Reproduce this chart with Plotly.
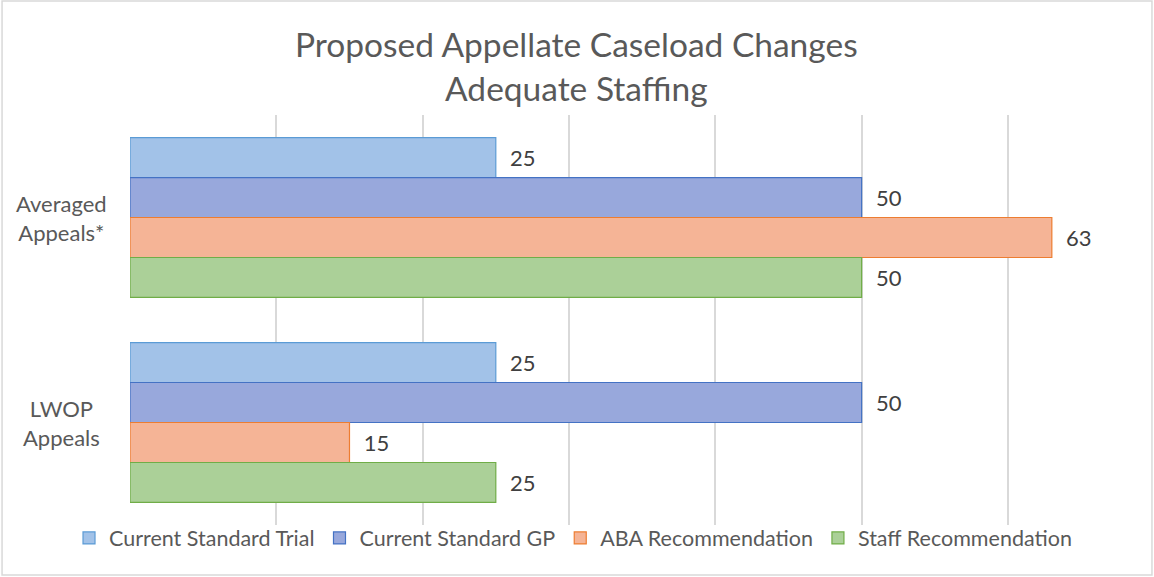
import plotly.graph_objects as go

categories = ["Averaged Appeals*", "LWOP Appeals"]
category_labels = ["Averaged<br>Appeals*", "LWOP<br>Appeals"]
series_names = ["Current Standard Trial", "Current Standard GP", "ABA Recommendation", "Staff Recommendation"]
trial = [25, 25]
gp = [50, 50]
aba = [63, 15]
staff = [50, 25]
series_values = [trial, gp, aba, staff]
chart_title = "Proposed Appellate Caseload Changes<br>Adequate Staffing"

fills = ["#a2c2e8", "#98a8dc", "#f5b496", "#abd098"]
edges = ["#5b9bd5", "#4472c4", "#ed7d31", "#70ad47"]

FONT = "Lato"
TXT = "#595959"

fig = go.Figure()
for name, vals, fc, ec in zip(series_names, series_values, fills, edges):
    fig.add_trace(go.Bar(
        name=name, y=categories, x=vals, orientation="h",
        marker=dict(color=fc, line=dict(color=ec, width=1.2)),
        text=[f"{v}" for v in vals], texttemplate="  %{text}",
        textposition="outside", cliponaxis=False,
        textfont=dict(family=FONT, size=22, color="#404040"),
    ))

for cat, lab in zip(categories, category_labels):
    fig.add_annotation(x=-0.069, xref="paper", y=cat, yref="y", text=lab,
                       showarrow=False, xanchor="center", yanchor="middle", align="center",
                       font=dict(family=FONT, size=22, color=TXT))

fig.add_annotation(x=0.4492, xref="paper", y=1.1207, yref="paper", text=chart_title,
                   showarrow=False, xanchor="center", yanchor="middle", align="center",
                   font=dict(family=FONT, size=33.5, color=TXT))

fig.add_shape(type="rect", xref="paper", yref="paper",
              x0=-0.1286, x1=1.0271, y0=-0.122, y1=1.278,
              line=dict(color="#d9d9d9", width=1.5), fillcolor="rgba(0,0,0,0)", layer="below")

fig.update_layout(
    width=1154, height=577,
    margin=dict(l=130, r=29, t=115, b=52),
    paper_bgcolor="white", plot_bgcolor="white",
    barmode="group", bargap=0.22, bargroupgap=0,
    xaxis=dict(range=[0, 68], dtick=10, showticklabels=False, showgrid=True,
               gridcolor="#d9d9d9", gridwidth=1.8, zeroline=False, showline=False,
               automargin=False),
    yaxis=dict(autorange="reversed", showticklabels=False, showgrid=False,
               zeroline=False, showline=False, type="category", automargin=False),
    legend=dict(orientation="h", x=-0.0613, xref="paper", xanchor="left",
                y=-0.0317, yref="paper", yanchor="middle",
                font=dict(family=FONT, size=21.5, color=TXT), traceorder="normal",
                itemwidth=30, bgcolor="rgba(0,0,0,0)"),
    showlegend=True,
)

fig.write_html("out.html", post_script="document.body.style.margin='0';",
               config={"displayModeBar": False})
